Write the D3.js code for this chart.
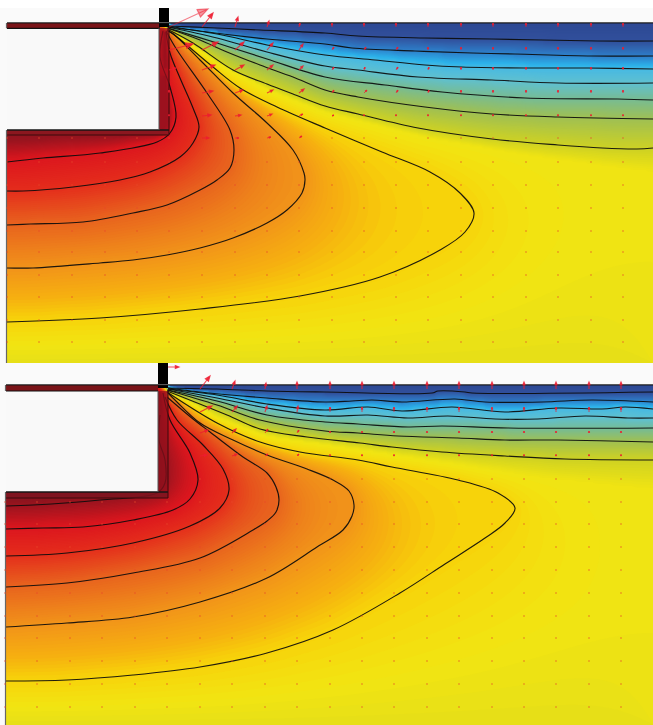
<!DOCTYPE html>
<html lang="en">
<head>
<meta charset="UTF-8">
<title>Temperature field</title>
<script src="https://cdnjs.cloudflare.com/ajax/libs/d3/7.8.5/d3.min.js"></script>
<style>
    html, body { margin: 0; background: #fafafa; }
    svg { display: block; }
    .iso { fill: none; stroke: #0c0c0c; stroke-width: 1.15px; stroke-opacity: 0.92; }
</style>
</head>
<body>
<svg id="chart" width="653" height="725"></svg>
<script>
// field colour against isoline level
const levelStops  = [0, 1, 2, 2.7, 3, 4, 5, 6, 7, 7.65, 8, 8.4, 9, 10, 11, 12, 13, 14];
const levelColors = ["#2c4590", "#31509c", "#2e82cc", "#2cb2ea", "#48bae2", "#60c0cf", "#78bc92", "#a0c052",
    "#cfd222", "#f2e512", "#f7d20a", "#f6b010", "#f1921a", "#e8621e", "#e42c1c", "#dc161e", "#98141f", "#801420"];

// isolines of the upper case: [x, depth below the surface]
const upperLines = [
    [[168,3],[217,5],[260,7],[325,10],[358,13],[425,15],[492,16],[598,18],[653,18]],
    [[168,3],[200,8],[267,16],[325,21],[352,25],[415,28],[472,30],[515,31],[592,33],[653,33]],
    [[168,4],[217,11],[267,22],[325,32],[375,37],[425,42],[462,44],[525,45],[588,45],[653,46]],
    [[168,4],[217,15],[267,29],[325,43],[358,47],[418,54],[492,57],[558,60],[653,60]],
    [[168,5],[217,20],[267,36],[325,54],[385,62],[442,69],[525,75],[618,76],[653,77]],
    [[167,5],[200,17],[227,29],[260,42],[293,54],[325,67],[358,74],[425,84],[492,91],[558,94],[653,96]],
    [[167,6],[193,20],[233,47],[267,61],[293,71],[325,83],[358,91],[418,105],[492,116],[558,122],[602,125],[637,126],[653,125]],
    [[167,7],[177,14],[213,44],[240,65],[277,84],[325,105],[382,129],[430,149],[460,170],[474,190],[465,209],[440,227],[380,254],[300,273],[200,286],[100,295],[7,299]],
    [[167,8],[172,10],[200,37],[233,70],[267,100],[293,127],[304,150],[305,157],[302,170],[287,187],[267,200],[233,215],[200,225],[167,232],[133,237],[100,240],[33,245],[7,245]],
    [[166,8],[177,27],[207,70],[230,107],[234,127],[230,145],[217,157],[200,167],[167,182],[133,190],[83,199],[30,201],[7,202]],
    [[166,9],[170,30],[180,55],[193,85],[199,104],[193,120],[180,134],[150,149],[120,157],[73,164],[23,168],[7,168]],
    [[163,8],[160,34],[170,64],[176,94],[170,110],[157,119],[100,130],[43,135],[7,139]]
];

// isolines of the lower case
const lowerLines = [
    [[168,3],[217,4],[267,6],[325,7],[432,8],[438,6],[465,7],[472,8],[653,7]],
    [[168,3],[200,7],[267,13],[325,17],[352,16],[372,15],[402,17],[455,14],[485,17],[542,17],[592,15],[653,17]],
    [[168,4],[217,10],[267,19],[325,25],[368,22],[402,26],[452,22],[505,27],[558,23],[602,24],[625,22],[653,24]],
    [[168,4],[217,13],[267,23],[325,31],[368,30],[408,33],[448,31],[495,34],[538,34],[585,31],[628,33],[653,33]],
    [[168,5],[217,16],[267,30],[325,37],[358,39],[408,42],[442,41],[508,43],[653,43]],
    [[167,5],[217,20],[260,35],[325,46],[358,48],[398,51],[458,53],[505,55],[558,55],[653,57]],
    [[167,6],[227,30],[260,44],[307,52],[360,58],[392,62],[442,67],[505,71],[565,74],[653,75]],
    [[167,7],[217,38],[260,57],[300,67],[358,75],[392,82],[458,95],[498,108],[515,123],[505,138],[485,153],[445,179],[400,208],[333,245],[267,268],[200,282],[133,290],[67,295],[6,296]],
    [[167,7],[177,17],[200,38],[233,55],[267,70],[307,84],[333,95],[349,106],[354,120],[352,131],[343,145],[317,162],[267,193],[200,217],[133,232],[67,238],[6,242]],
    [[167,12],[193,34],[210,47],[243,72],[267,88],[276,102],[279,115],[276,127],[267,136],[253,145],[200,173],[133,188],[67,198],[6,202]],
    [[165,12],[177,35],[203,60],[223,84],[229,105],[220,123],[190,141],[133,158],[67,168],[6,171]],
    [[163,8],[170,35],[190,68],[198,95],[190,114],[173,125],[133,135],[83,142],[43,143],[6,144]],
    [[160,30],[159,55],[165,75],[165,98],[157,108],[100,115],[33,120],[6,121]]
];

// unstroked guides: where the colour reaches plain yellow, and the hot wall
const upperRidge = [[168,5],[217,40],[267,67],[325,90],[425,115],[520,132],[600,143],[653,150]];
const lowerRidge = [[168,5],[217,33],[267,52],[325,60],[392,70],[458,80],[530,92],[600,100],[653,105]];
const upperWall  = [[165,10],[165,100],[160,108],[7,112]];
const lowerWall  = [[158,8],[158,105],[6,112]];

// velocity sample grid
const upperCols = [7,39,72,105,137,169,202,235,267,299,332,364,396,428,461,493,526,558,591,623];
const lowerCols = [5,37,70,102,135,167,200,232,265,297,330,362,394,427,459,492,524,556,589,621];
const upperRows = [4,27,47,70,93,115,139,162,185,208,229,252,274,297,319];
const lowerRows = [4,27,48,71,94,117,139,162,185,208,231,253,276,299,322];

// rise of the far-field arrows in each row
const upperLift = [4,3,3,3,1.6,0.8,0.6,0.5,0.5,0.5,0.5,0.5,0.5,0.5,0.5];
const lowerLift = [7,5,2,1.6,0.8,0.6,0.5,0.5,0.5,0.5,0.5,0.5,0.5,0.5,0.5];

// arrows near the slot: [col, row, dx, dy]
const upperVecs = [
    [5,0,39,-18],[6,0,11,-14],[7,0,3,-10],[8,0,2,-6],[9,0,1,-4],
    [5,1,24,-6],[6,1,16,-8],[7,1,9,-8],[8,1,6,-7],[9,1,4,-6],[10,1,2,-3],[11,1,2,-3],[12,1,2,-3],
    [5,2,7,-2],[6,2,13,-5],[7,2,9,-5],[8,2,6,-5],[9,2,4,-4],[10,2,2,-3],[11,2,1,-3],[12,2,2,-3],[13,2,1,-3],
    [6,3,11,-2],[7,3,8,-3],[8,3,6,-3],[9,3,5,-4],[10,3,2,-3],[11,3,3,-3],[12,3,2,-3],[13,3,1,-3],
    [6,4,9,-1],[7,4,6,-1],[8,4,5,-2],[9,4,4,-2],[10,4,2,-1],
    [6,5,7,0],[7,5,4,0],[8,5,4,-1],[9,5,3,-2]
];
const lowerVecs = [
    [5,0,40,-17],[6,0,10,-13],[7,0,3,-8],[8,0,1,-6],
    [5,1,8,-2],[6,1,12,-6],[7,1,5,-6],[8,1,2,-6],[9,1,1,-6],
    [5,2,7,-1],[6,2,8,-3],[7,2,4,-4],[8,2,3,-4],[9,2,2,-3],
    [6,3,7,-1],[7,3,5,-2],[8,3,3,-2],[9,3,2,-2]
];

// solid parts: [x1, x2, depth1, depth2]
const upperSolids = { blank: [7,159,5,107], plate: [7,160,0,5.3], band: [7,169,107,112], wall: [159,169,5,107], block: [159,169,-15,4] };
const lowerSolids = { blank: [6,158,6,107], plate: [6,158,0,6],   band: [6,168,107,113], wall: [158,168,6,107], block: [158,168,-22,3] };

const depthMax = 340;
const xScale = d3.scaleLinear().domain([0, 653]).range([0, 653]);
const color = d3.scaleLinear().domain(levelStops).range(levelColors);
const svg = d3.select("#chart");

svg.append("rect").attr("width", 653).attr("height", 8).attr("fill", "#fff");

// pin the cells under a polyline to a level
function pinLine(pin, n, cell, x0, pts, v) {
    for (let k = 0; k < pts.length - 1; k++) {
        const [ax, ay] = pts[k], [bx, by] = pts[k + 1];
        const steps = Math.ceil(Math.hypot(bx - ax, by - ay) / (cell / 2));
        for (let s = 0; s <= steps; s++) {
            const i = Math.round((ax + (bx - ax) * s / steps - x0) / cell);
            const j = Math.round((ay + (by - ay) * s / steps) / cell);
            if (i >= 0 && i < n && j >= 0) pin.set(j * n + i, v);
        }
    }
}

// relax the field between the isolines, coarse grid first
function solveField(panel) {
    const x0 = panel.left, W = 653 - x0;
    let prev = null, n, m, vals;
    for (const [cell, its] of [[16, 400], [8, 200], [4, 120], [2, 80]]) {
        n = Math.ceil(W / cell) + 1;
        m = Math.ceil(depthMax / cell) + 1;
        vals = new Float64Array(n * m).fill(7.6);
        if (prev) {
            for (let j = 0; j < m; j++) for (let i = 0; i < n; i++) {
                const pi = Math.min(prev.n - 1, i >> 1), pj = Math.min(prev.m - 1, j >> 1);
                vals[j * n + i] = prev.vals[pj * prev.n + pi];
            }
        }
        const pin = new Map();
        pinLine(pin, n, cell, x0, [[x0, depthMax], [653, depthMax]], 7.45);
        pinLine(pin, n, cell, x0, [[653, panel.ridge[panel.ridge.length - 1][1]], [653, depthMax]], 7.62);
        pinLine(pin, n, cell, x0, [[170, 0], [653, 0]], 0.3);
        pinLine(pin, n, cell, x0, panel.ridge, 7.65);
        pinLine(pin, n, cell, x0, panel.hot, panel.hotLevel);
        panel.lines.forEach((l, k) => pinLine(pin, n, cell, x0, l, k + 1));
        pin.forEach((v, idx) => { vals[idx] = v; });
        for (let t = 0; t < its; t++) {
            for (let j = 0; j < m; j++) for (let i = 0; i < n; i++) {
                const idx = j * n + i;
                if (pin.has(idx)) continue;
                const l = vals[idx - (i > 0 ? 1 : 0)], r = vals[idx + (i < n - 1 ? 1 : 0)];
                const u = vals[idx - (j > 0 ? n : 0)], d = vals[idx + (j < m - 1 ? n : 0)];
                vals[idx] += 1.6 * ((l + r + u + d) / 4 - vals[idx]);
            }
        }
        prev = { n, m, vals };
    }
    return { n, m, vals, cell: 2 };
}

function arrowPath(x1, y1, x2, y2, h) {
    const a = Math.atan2(y2 - y1, x2 - x1), b = 0.38;
    return `M${x1},${y1}L${x2},${y2}M${x2 - h * Math.cos(a - b)},${y2 - h * Math.sin(a - b)}`
        + `L${x2},${y2}L${x2 - h * Math.cos(a + b)},${y2 - h * Math.sin(a + b)}Z`;
}

function drawPanel(panel, idx) {
    const y = d3.scaleLinear().domain([0, depthMax]).range(panel.yRange);
    const g = svg.append("g");
    const clipId = "clip" + idx;
    g.append("clipPath").attr("id", clipId).append("rect")
        .attr("x", xScale(panel.left)).attr("y", y(0))
        .attr("width", xScale(653) - xScale(panel.left)).attr("height", y(depthMax) - y(0));

    // filled field
    const f = solveField(panel);
    const thresholds = d3.range(0, 14.2, 0.06);
    const contours = d3.contours().size([f.n, f.m]).thresholds(thresholds)(f.vals);
    const path = d3.geoPath(d3.geoTransform({
        point(px, py) { this.stream.point(xScale(panel.left + (px - 0.5) * f.cell), y((py - 0.5) * f.cell)); }
    }));
    const fieldG = g.append("g").attr("clip-path", `url(#${clipId})`);
    fieldG.selectAll("path").data(contours).join("path")
        .attr("d", path).attr("fill", d => color(d.value));

    const s = panel.solids;
    const box = (a, fill, op) => g.append("rect")
        .attr("x", xScale(a[0])).attr("width", xScale(a[1]) - xScale(a[0]))
        .attr("y", y(a[2])).attr("height", y(a[3]) - y(a[2]))
        .attr("fill", fill).attr("fill-opacity", op);

    // isolines
    const line = d3.line().x(d => xScale(d[0])).y(d => y(d[1])).curve(d3.curveCatmullRom.alpha(0.5));
    g.append("g").selectAll("path").data(panel.lines).join("path")
        .attr("class", "iso").attr("d", line);

    // slot, plate and walls
    box(s.blank, "#f9f9f9", 1);
    box(s.wall, panel.wallFill, 0.72);
    box(s.band, panel.bandFill, 0.88);
    box(s.plate, "#7a1418", 1);
    box(s.block, "#000", 1);
    const edge = (x1, x2, d1, d2, col, w) => g.append("line")
        .attr("x1", xScale(x1)).attr("x2", xScale(x2)).attr("y1", y(d1)).attr("y2", y(d2))
        .attr("stroke", col).attr("stroke-width", w);
    edge(s.plate[0], 653, -0.5, -0.5, "#9a9a9a", 1);
    edge(s.plate[0], 653, 0, 0, "#161616", 1);
    edge(s.plate[0], s.plate[1], s.plate[3], s.plate[3], "#111", 1.2);
    edge(s.band[0], s.band[1], s.band[2], s.band[2], "#161616", 1.4);
    edge(s.band[0], s.wall[1], s.band[3], s.band[3], "#3a0a0c", 1);
    edge(s.wall[0], s.wall[0], s.wall[2], s.wall[3], "#555", 1);
    edge(s.wall[1], s.wall[1], s.wall[2], s.band[3], "#3a0a0c", 1);
    edge(s.plate[0] - 0.5, s.plate[0] - 0.5, s.band[2], depthMax, "#666", 1.2);
    edge(s.plate[0] - 0.5, s.plate[0] - 0.5, 0, s.plate[3], "#666", 1.2);

    // velocity arrows
    const big = new Map(panel.vecs.map(v => [v[0] + "," + v[1], v]));
    const samples = [];
    panel.rows.forEach((d, r) => panel.cols.forEach((x, c) => {
        if (x < s.wall[1] && d < s.band[2]) return;
        const v = big.get(c + "," + r);
        samples.push(v ? { x, d, dx: v[2], dy: v[3] } : { x, d, dx: 0, dy: -panel.lift[r] });
    }));
    if (panel.jet) samples.push(panel.jet);
    const vec = g.append("g");
    const arrows = samples.filter(p => Math.hypot(p.dx, p.dy) >= 1.5);
    vec.selectAll("path").data(arrows).join("path")
        .attr("d", p => {
            const len = Math.hypot(p.dx, p.dy);
            return arrowPath(xScale(p.x), y(p.d), xScale(p.x + p.dx), y(p.d + p.dy), Math.min(11, 1.1 + len * 0.26));
        })
        .attr("fill", "#ee1c30").attr("stroke", "#ee1c30")
        .attr("stroke-width", p => Math.hypot(p.dx, p.dy) > 5 ? 1.15 : 0.9)
        .attr("stroke-opacity", p => Math.hypot(p.dx, p.dy) > 25 ? 0.55 : 0.8)
        .attr("fill-opacity", p => Math.hypot(p.dx, p.dy) > 25 ? 0.45 : 0.8);
    vec.selectAll("rect").data(samples.filter(p => Math.hypot(p.dx, p.dy) < 1.5)).join("rect")
        .attr("x", p => xScale(p.x) - 0.75).attr("y", p => y(p.d) - 0.75)
        .attr("width", 1.5).attr("height", 1.5)
        .attr("fill", "#e84a2a").attr("fill-opacity", 0.6);
}

drawPanel({
    left: 7, yRange: [23, 363], lines: upperLines, ridge: upperRidge, hot: upperWall, hotLevel: 13.3,
    cols: upperCols, rows: upperRows, lift: upperLift, vecs: upperVecs, solids: upperSolids,
    wallFill: "#a0101e", bandFill: "#8a1820"
}, 0);

drawPanel({
    left: 6, yRange: [385, 725], lines: lowerLines, ridge: lowerRidge, hot: lowerWall, hotLevel: 13.8,
    cols: lowerCols, rows: lowerRows, lift: lowerLift, vecs: lowerVecs, solids: lowerSolids,
    wallFill: "#900f1c", bandFill: "#7e1420",
    jet: { x: 168, d: -18, dx: 11, dy: 0 }
}, 1);
</script>
</body>
</html>
